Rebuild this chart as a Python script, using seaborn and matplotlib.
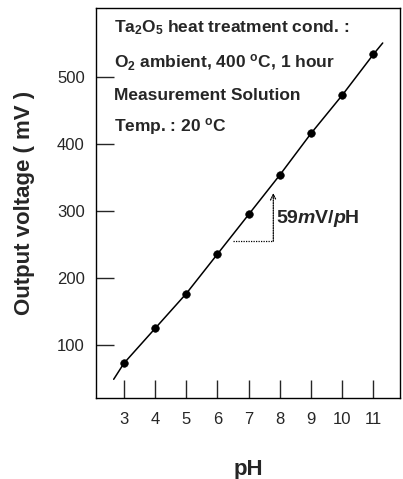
import matplotlib
matplotlib.use("Agg")
import matplotlib.pyplot as plt
import seaborn as sns
import pandas as pd

ph = [3, 4, 5, 6, 7, 8, 9, 10, 11]
mv = [73, 125, 177, 236, 295, 354, 416, 473, 534]
# hand-drawn guide line through the points, extended at both ends
line_start_ph, line_start_mv = 2.67, 49
line_end_ph, line_end_mv = 11.3, 551
xticks = [3, 4, 5, 6, 7, 8, 9, 10, 11]
yticks = [100, 200, 300, 400, 500]
slope_base_ph = [6.51, 7.79]
slope_base_mv = [255, 255]
slope_top_mv = 327

sns.set_style("white")
plt.rcParams['font.family'] = ['Liberation Sans', 'DejaVu Sans']
plt.rcParams['mathtext.fontset'] = 'custom'
plt.rcParams['mathtext.rm'] = 'Liberation Sans:bold'
plt.rcParams['mathtext.bf'] = 'Liberation Sans:bold'
plt.rcParams['mathtext.it'] = 'Liberation Sans:bold:italic'

fig = plt.figure(figsize=(4.03, 4.79), dpi=100)
ax = fig.add_axes([0.238, 0.169, 0.755, 0.814])

df = pd.DataFrame({"pH": ph, "mV": mv})
line = pd.DataFrame({"pH": [line_start_ph] + ph + [line_end_ph],
                     "mV": [line_start_mv] + mv + [line_end_mv]})
sns.lineplot(data=line, x="pH", y="mV", color="black", linewidth=1.1, ax=ax, sort=True)
sns.scatterplot(data=df, x="pH", y="mV", color="black", s=30, edgecolor="black", zorder=3, ax=ax)

ax.set_xlim(2.1, 11.86)
ax.set_ylim(21, 603)
ax.set_xticks(xticks)
ax.set_yticks(yticks)
ax.tick_params(axis='x', bottom=True, direction='in', length=13, width=1, pad=10, labelsize=12)
ax.tick_params(axis='y', left=True, direction='in', length=13, width=1, pad=8, labelsize=12)
for s in ax.spines.values():
    s.set_color('black')
    s.set_linewidth(1.0)

ax.set_xlabel("pH", fontsize=16, fontweight='bold', labelpad=23)
ax.set_ylabel("Output voltage ( mV )", fontsize=16, fontweight='bold', labelpad=16)

tkw = dict(fontsize=12.5, fontweight='bold', va='center', ha='left')
ax.text(2.68, 574, r"Ta$_{\mathbf{2}}$O$_{\mathbf{5}}$ heat treatment cond. :", **tkw)
ax.text(2.68, 521, r"O$_{\mathbf{2}}$ ambient, 400 $^{\mathbf{o}}$C, 1 hour", **tkw)
ax.text(2.68, 473, "Measurement Solution", **tkw)
ax.text(2.68, 426, r"Temp. : 20 $^{\mathbf{o}}$C", **tkw)

ax.plot(slope_base_ph, slope_base_mv, color='black', linestyle=(0, (1, 1)), linewidth=0.9)
ax.annotate("", xy=(slope_base_ph[1], slope_top_mv), xytext=(slope_base_ph[1], slope_base_mv[1]),
            arrowprops=dict(arrowstyle='->', color='black', linewidth=0.9,
                            linestyle=(0, (1, 1)), shrinkA=0, shrinkB=0))
ax.text(7.87, 289, r"59$\mathit{m}$V/$\mathit{p}$H", fontsize=14, fontweight='bold', va='center', ha='left')

fig.savefig("out.png", dpi=100)
